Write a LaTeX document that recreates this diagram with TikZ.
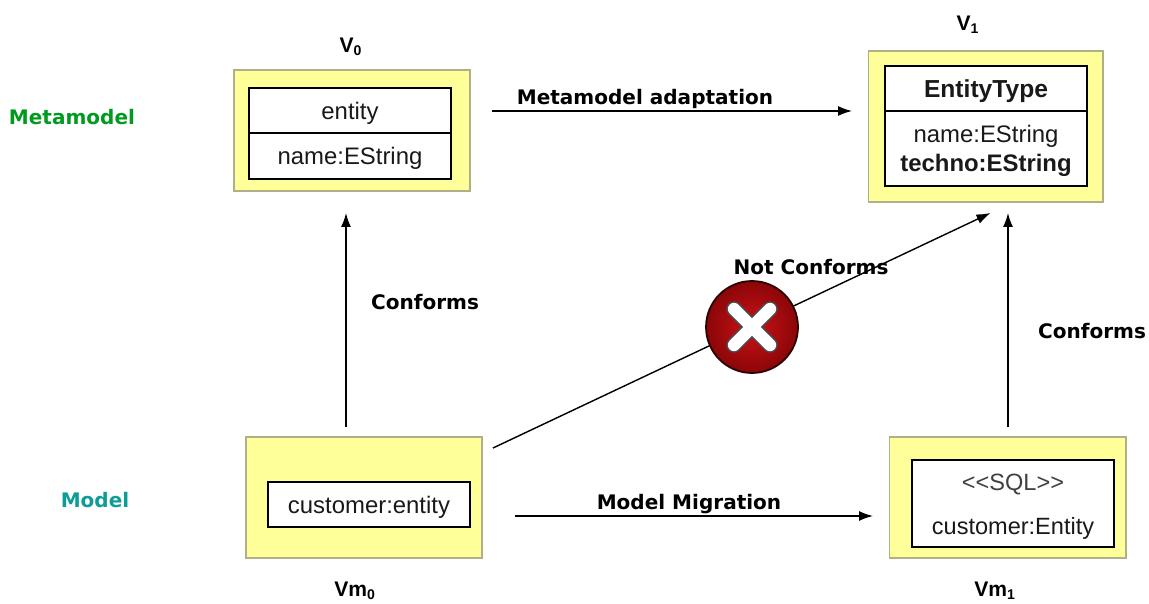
\documentclass[tikz,border=0pt]{standalone}
\usepackage{fontspec}
\setmainfont{Liberation Sans}
\newfontfamily\handfont{DejaVu Sans}
\usepackage{tikz}
\usetikzlibrary{arrows.meta, calc, positioning, shadings}
\definecolor{boxyellow}{HTML}{FFFF99}
\definecolor{boxedge}{HTML}{B0B088}
\definecolor{metagreen}{HTML}{009A1E}
\definecolor{modelteal}{HTML}{0E9C98}
\definecolor{crossred}{HTML}{CC1218}
\definecolor{crossdark}{HTML}{8A0608}
\begin{document}
\begin{tikzpicture}[x=0.02cm,y=-0.02cm,every node/.style={outer sep=0pt,inner sep=0pt}]
\tikzstyle{sheet}=[draw=boxedge,fill=boxyellow,line width=0.6pt]
\tikzstyle{classbox}=[draw=black,fill=white,line width=1.2pt,minimum width=4.04cm,align=center,text=black!90,text depth=-2pt,font=\fontsize{13.6}{15.8}\selectfont]
\tikzstyle{hand}=[font=\handfont\bfseries\fontsize{11.4}{13}\selectfont]
\tikzstyle{version}=[font=\bfseries\fontsize{12}{14}\selectfont]
\tikzstyle{flow}=[-{Latex[length=0.28cm,width=0.2cm]},line width=0.8pt]

\useasboundingbox (0,0) rectangle (1149,604);

% yellow sheets
\node (vzero) [sheet,minimum width=4.72cm,minimum height=2.42cm] at (352,130.5) {};
\node (vone) [sheet,minimum width=4.7cm,minimum height=3.02cm] at (985.5,126.5) {};
\node (vmzero) [sheet,minimum width=4.72cm,minimum height=2.42cm] at (364,497.5) {};
\node (vmone) [sheet,minimum width=4.74cm,minimum height=2.42cm] at (1007.5,497.5) {};

% classes
\node (entityname) [classbox,minimum height=0.9cm] at (350,110.5) {entity};
\node (entityattr) [classbox,minimum height=0.92cm,below=0pt of entityname] {name:EString};
\node (typename) [classbox,minimum height=0.9cm,font=\bfseries\fontsize{14}{16}\selectfont] at (986,88.5) {EntityType};
\node (typeattr) [classbox,minimum height=1.5cm,below=0pt of typename] {name:EString\\[1pt]\textbf{techno:EString}};
\node (customer) [classbox,minimum height=0.9cm] at (369,504.5) {customer:entity};
\node (migrated) [classbox,minimum height=1.74cm] at (1013,503.5) {};
\node (stereotype) [font=\fontsize{13.4}{15}\selectfont,text=black!75] at (1013,485) {<{}<SQL>{}>};
\node (migratedname) [font=\fontsize{13.4}{15}\selectfont,text=black!90] at (1013,528) {customer:Entity};

% labels
\node (vzerolabel) [version] at (351,47) {V\textsubscript{0}};
\node (vonelabel) [version] at (968,25) {V\textsubscript{1}};
\node (vmzerolabel) [version] at (355,591) {Vm\textsubscript{0}};
\node (vmonelabel) [version] at (995,591) {Vm\textsubscript{1}};
\node (metamodel) [hand,text=metagreen] at (72,117) {Metamodel};
\node (model) [hand,text=modelteal] at (95,500) {Model};
\node (adaptlabel) [hand] at (645,99) {Metamodel adaptation};
\node (migrationlabel) [hand] at (689,504) {Model Migration};
\node (leftlabel) [hand] at (425,302) {Conforms};
\node (rightlabel) [hand] at (1092,331) {Conforms};
\node (notlabel) [hand] at (811,267) {Not Conforms};

% connectors
\draw [flow] ($(vzero.east)+(22,-19.5)$) -- ($(vone.west)+(-16,-15.5)$);
\draw [flow] ($(vmzero.east)+(33,18.5)$) -- ($(vmone.west)+(-16,18.5)$);
\draw [flow] ($(vmzero.north)+(-18,-10)$) -- ($(vzero.south)+(-6,22)$);
\draw [flow] ($(vmone.north)+(0.5,-10)$) -- ($(vone.south)+(22.5,11)$);
\draw [flow] ($(vmzero.north east)+(11,11)$) -- ($(vone.south)+(5,11)$);

% refusal button
\node (refusal) [circle,minimum size=1.84cm,draw=black!70!crossdark,line width=1pt,inner color=crossred,outer color=crossdark] at (752,327) {};
\draw [line cap=round,line width=8.8pt,black!70] ($(refusal.center)+(-18,-18)$) -- ($(refusal.center)+(18,18)$);
\draw [line cap=round,line width=8.8pt,black!70] ($(refusal.center)+(18,-18)$) -- ($(refusal.center)+(-18,18)$);
\draw [line cap=round,line width=7pt,white] ($(refusal.center)+(-18,-18)$) -- ($(refusal.center)+(18,18)$);
\draw [line cap=round,line width=7pt,white] ($(refusal.center)+(18,-18)$) -- ($(refusal.center)+(-18,18)$);
\end{tikzpicture}
\end{document}
